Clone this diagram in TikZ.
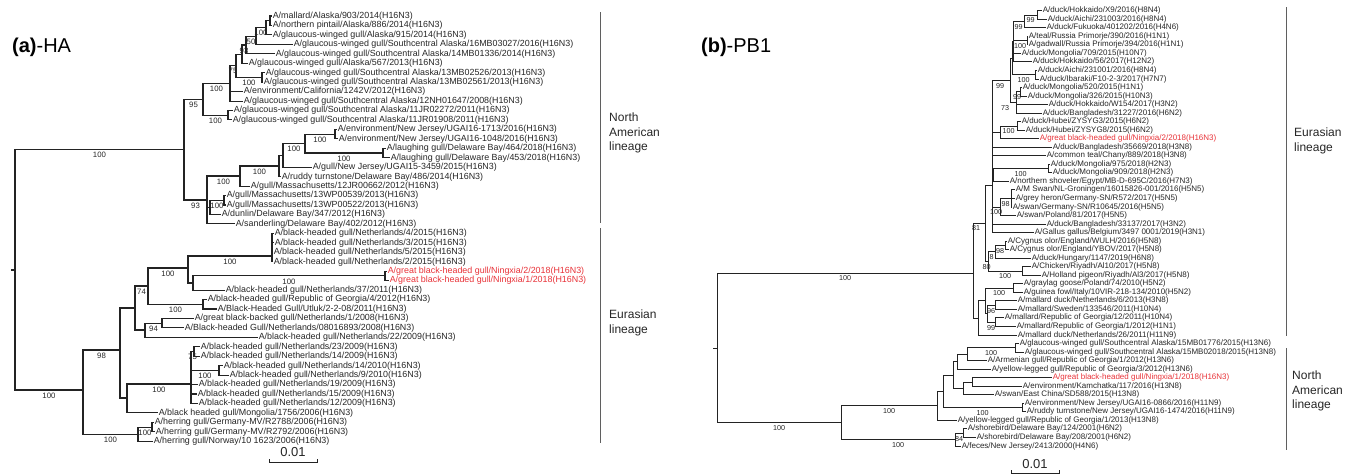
\documentclass[tikz,border=0pt]{standalone}
\usepackage{fontspec}
\setmainfont{Liberation Sans}
\usepackage{tikz}
\usetikzlibrary{positioning}
\definecolor{ningxia}{RGB}{232,50,56}
\definecolor{treeline}{RGB}{35,35,35}
\definecolor{barline}{RGB}{95,95,95}
% draw the branches from one parent to each of its children
\newcommand{\kids}[3][br]{\foreach \c in {#3}{\draw[#1] (#2) |- (\c);}}

\begin{document}
\begin{tikzpicture}[x=1pt, y=-1pt,
  br/.style={draw=treeline, line width=1.1pt},
  rbr/.style={draw=treeline, line width=0.85pt},
  lleaf/.style={anchor=west, inner sep=0.6pt, text=black!85, font=\fontsize{8.9}{9}\selectfont},
  rleaf/.style={anchor=west, inner sep=0.6pt, text=black!85, font=\fontsize{8}{8.5}\selectfont},
  lboot/.style={inner sep=0pt, text=black!85, font=\fontsize{7.8}{8}\selectfont},
  rboot/.style={inner sep=0pt, text=black!85, font=\fontsize{7.2}{8}\selectfont},
  lineage/.style={anchor=west, align=left, inner sep=0pt, text=black!85, font=\fontsize{12}{14.5}\selectfont},
  panel/.style={anchor=west, inner sep=0pt, font=\fontsize{20}{22}\selectfont},
  bar/.style={draw=barline, line width=1pt},
  scalebar/.style={draw=treeline, line width=0.8pt}]
\useasboundingbox (0,0) rectangle (1351,475);

%%% (a) HA
\node[panel] (ttla) at (12,47) {\textbf{(a)}-HA};

\node[lleaf] (a1) at (272,16.0) {A/mallard/Alaska/903/2014(H16N3)};
\node[lleaf] (a2) at (272,25.5) {A/northern pintail/Alaska/886/2014(H16N3)};
\node[lleaf] (a3) at (272,34.9) {A/glaucous-winged gull/Alaska/915/2014(H16N3)};
\node[lleaf] (a4) at (293,44.4) {A/glaucous-winged gull/Southcentral Alaska/16MB03027/2016(H16N3)};
\node[lleaf] (a5) at (275,53.8) {A/glaucous-winged gull/Southcentral Alaska/14MB01336/2014(H16N3)};
\node[lleaf] (a6) at (248,63.3) {A/glaucous-winged gull/Alaska/567/2013(H16N3)};
\node[lleaf] (a7) at (265,72.7) {A/glaucous-winged gull/Southcentral Alaska/13MB02526/2013(H16N3)};
\node[lleaf] (a8) at (263,82.2) {A/glaucous-winged gull/Southcentral Alaska/13MB02561/2013(H16N3)};
\node[lleaf] (a9) at (243,91.6) {A/environment/California/1242V/2012(H16N3)};
\node[lleaf] (a10) at (243,101.1) {A/glaucous-winged gull/Southcentral Alaska/12NH01647/2008(H16N3)};
\node[lleaf] (a11) at (233,110.5) {A/glaucous-winged gull/Southcentral Alaska/11JR02272/2011(H16N3)};
\node[lleaf] (a12) at (232,119.9) {A/glaucous-winged gull/Southcentral Alaska/11JR01908/2011(H16N3)};
\node[lleaf] (a13) at (337,129.4) {A/environment/New Jersey/UGAI16-1713/2016(H16N3)};
\node[lleaf] (a14) at (338,138.8) {A/environment/New Jersey/UGAI16-1048/2016(H16N3)};
\node[lleaf] (a15) at (386,148.3) {A/laughing gull/Delaware Bay/464/2018(H16N3)};
\node[lleaf] (a16) at (390,157.8) {A/laughing gull/Delaware Bay/453/2018(H16N3)};
\node[lleaf] (a17) at (312,167.2) {A/gull/New Jersey/UGAI15-3459/2015(H16N3)};
\node[lleaf] (a18) at (281,176.7) {A/ruddy turnstone/Delaware Bay/486/2014(H16N3)};
\node[lleaf] (a19) at (250,186.1) {A/gull/Massachusetts/12JR00662/2012(H16N3)};
\node[lleaf] (a20) at (226,195.6) {A/gull/Massachusetts/13WP00539/2013(H16N3)};
\node[lleaf] (a21) at (226,205.0) {A/gull/Massachusetts/13WP00522/2013(H16N3)};
\node[lleaf] (a22) at (221,214.5) {A/dunlin/Delaware Bay/347/2012(H16N3)};
\node[lleaf] (a23) at (235,223.9) {A/sanderling/Delaware Bay/402/2012(H16N3)};
\node[lleaf] (a24) at (274,233.4) {A/black-headed gull/Netherlands/4/2015(H16N3)};
\node[lleaf] (a25) at (274,242.8) {A/black-headed gull/Netherlands/3/2015(H16N3)};
\node[lleaf] (a26) at (273,252.3) {A/black-headed gull/Netherlands/5/2015(H16N3)};
\node[lleaf] (a27) at (273,261.7) {A/black-headed gull/Netherlands/2/2015(H16N3)};
\node[lleaf, text=ningxia] (a28) at (387,271.2) {A/great black-headed gull/Ningxia/2/2018(H16N3)};
\node[lleaf, text=ningxia] (a29) at (389,280.6) {A/great black-headed gull/Ningxia/1/2018(H16N3)};
\node[lleaf] (a30) at (225,290.1) {A/black-headed gull/Netherlands/37/2011(H16N3)};
\node[lleaf] (a31) at (207,299.5) {A/black-headed gull/Republic of Georgia/4/2012(H16N3)};
\node[lleaf] (a32) at (217,309.0) {A/Black-Headed Gull/Utluk/2-2-08/2011(H16N3)};
\node[lleaf] (a33) at (194,318.4) {A/great black-backed gull/Netherlands/1/2008(H16N3)};
\node[lleaf] (a34) at (184,327.9) {A/Black-headed Gull/Netherlands/08016893/2008(H16N3)};
\node[lleaf] (a35) at (258,337.3) {A/black-headed gull/Netherlands/22/2009(H16N3)};
\node[lleaf] (a36) at (200,346.8) {A/black-headed gull/Netherlands/23/2009(H16N3)};
\node[lleaf] (a37) at (200,356.2) {A/black-headed gull/Netherlands/14/2009(H16N3)};
\node[lleaf] (a38) at (223,365.7) {A/black-headed gull/Netherlands/14/2010(H16N3)};
\node[lleaf] (a39) at (229,375.1) {A/black-headed gull/Netherlands/9/2010(H16N3)};
\node[lleaf] (a40) at (198,384.6) {A/black-headed gull/Netherlands/19/2009(H16N3)};
\node[lleaf] (a41) at (197,394.0) {A/black-headed gull/Netherlands/15/2009(H16N3)};
\node[lleaf] (a42) at (198,403.5) {A/black-headed gull/Netherlands/12/2009(H16N3)};
\node[lleaf] (a43) at (158,412.9) {A/black headed gull/Mongolia/1756/2006(H16N3)};
\node[lleaf] (a44) at (154,422.4) {A/herring gull/Germany-MV/R2788/2006(H16N3)};
\node[lleaf] (a45) at (155,431.8) {A/herring gull/Germany-MV/R2792/2006(H16N3)};
\node[lleaf] (a46) at (153,441.3) {A/herring gull/Norway/10 1623/2006(H16N3)};

% internal nodes, left tree
\coordinate (aN12) at (270,20.7);
\coordinate (aN13) at (266,27.8);
\coordinate (aN14) at (256,36.1);
\coordinate (aN15) at (246,45.0);
\coordinate (aN16) at (242,54.1);
\coordinate (aN78) at (262,77.5);
\coordinate (aN18) at (236,65.8);
\coordinate (aN10) at (230,83.5);
\coordinate (aN1112) at (228,115.2);
\coordinate (aNA1) at (203,99.4);
\coordinate (aN1314) at (335,134.1);
\coordinate (aN1516) at (383,153.0);
\coordinate (aN1316) at (305,143.6);
\coordinate (aN1317) at (283,155.4);
\coordinate (aN1318) at (279,166.0);
\coordinate (aN1319) at (240,176.0);
\coordinate (aN2021) at (224,200.3);
\coordinate (aN2022) at (210,207.4);
\coordinate (aNA2) at (207,200.0);
\coordinate (aNam) at (184,149.7);
\coordinate (aN2427) at (272,256.0);
\coordinate (aNred) at (385,275.9);
\coordinate (aN2830) at (193,283.0);
\coordinate (aN2430) at (188,268.0);
\coordinate (aN3132) at (203,304.3);
\coordinate (aN2432) at (148,286.0);
\coordinate (aN3334) at (162,323.2);
\coordinate (aN3335) at (145,330.0);
\coordinate (aN2435) at (135,308.0);
\coordinate (aN3637) at (194,351.5);
\coordinate (aN3839) at (219,370.4);
\coordinate (aN3642) at (191,384.0);
\coordinate (aN3643) at (127,398.0);
\coordinate (aNB1) at (120,350.0);
\coordinate (aN4445) at (152,427.1);
\coordinate (aN4446) at (138,434.2);
\coordinate (aNeu) at (83,390.0);
\coordinate (aroot) at (15,270.0);
\coordinate (atick) at (11,270.0);

\kids{aN12}{a1,a2}
\kids{aN13}{aN12,a3}
\kids{aN14}{aN13,a4}
\kids{aN15}{aN14,a5}
\kids{aN16}{aN15,a6}
\kids{aN78}{a7,a8}
\kids{aN18}{aN16,aN78}
\kids{aN10}{aN18,a9,a10}
\kids{aN1112}{a11,a12}
\kids{aNA1}{aN10,aN1112}
\kids{aN1314}{a13,a14}
\kids{aN1516}{a15,a16}
\kids{aN1316}{aN1314,aN1516}
\kids{aN1317}{aN1316,a17}
\kids{aN1318}{aN1317,a18}
\kids{aN1319}{aN1318,a19}
\kids{aN2021}{a20,a21}
\kids{aN2022}{aN2021,a22}
\kids{aNA2}{aN1319,aN2022,a23}
\kids{aNam}{aNA1,aNA2}
\kids{aN2427}{a24,a25,a26,a27}
\kids{aNred}{a28,a29}
\kids{aN2830}{aNred,a30}
\kids{aN2430}{aN2427,aN2830}
\kids{aN3132}{a31,a32}
\kids{aN2432}{aN2430,aN3132}
\kids{aN3334}{a33,a34}
\kids{aN3335}{aN3334,a35}
\kids{aN2435}{aN2432,aN3335}
\kids{aN3637}{a36,a37}
\kids{aN3839}{a38,a39}
\kids{aN3642}{aN3637,aN3839,a40,a41,a42}
\kids{aN3643}{aN3642,a43}
\kids{aNB1}{aN2435,aN3643}
\kids{aN4445}{a44,a45}
\kids{aN4446}{aN4445,a46}
\kids{aNeu}{aNB1,aN4446}
\kids{aroot}{aNam,aNeu}
\draw[br] (aroot) -- (atick);

% bootstrap values, left tree
\node[lboot] (ab1) at (261,33.3) {100};
\node[lboot] (ab2) at (251,41.6) {50};
\node[lboot] (ab3) at (244,50.5) {93};
\node[lboot] (ab4) at (249,83.0) {100};
\node[lboot] (ab5) at (233,71.3) {75};
\node[lboot] (ab6) at (216.5,89.0) {100};
\node[lboot] (ab7) at (215.5,120.7) {100};
\node[lboot] (ab8) at (193.5,105.0) {95};
\node[lboot] (ab9) at (320,139.6) {100};
\node[lboot] (ab10) at (344,158.5) {100};
\node[lboot] (ab11) at (294,149.0) {100};
\node[lboot] (ab12) at (259.5,171.5) {100};
\node[lboot] (ab13) at (223.5,181.5) {100};
\node[lboot] (ab14) at (217,205.8) {100};
\node[lboot] (ab15) at (195.5,205.5) {93};
\node[lboot] (ab16) at (99.5,155.2) {100};
\node[lboot] (ab17) at (230,261.5) {100};
\node[lboot] (ab18) at (289,281.4) {100};
\node[lboot] (ab19) at (168,273.5) {100};
\node[lboot] (ab20) at (175.5,309.8) {100};
\node[lboot] (ab21) at (141.5,291.5) {74};
\node[lboot] (ab22) at (153.5,328.7) {94};
\node[lboot] (ab23) at (192.5,357.0) {75};
\node[lboot] (ab24) at (205,375.9) {100};
\node[lboot] (ab25) at (159,389.5) {100};
\node[lboot] (ab26) at (101.5,355.5) {98};
\node[lboot] (ab27) at (145,432.6) {100};
\node[lboot] (ab28) at (110.5,439.7) {100};
\node[lboot] (ab29) at (49,395.5) {100};

% lineages and scale, left
\coordinate (alb1t) at (600,12);
\coordinate (alb1b) at (600,223);
\coordinate (alb2t) at (600,228);
\coordinate (alb2b) at (600,443);
\draw[bar] (alb1t) -- (alb1b);
\draw[bar] (alb2t) -- (alb2b);
\node[lineage] (alinNA) at (609,133) {North\\American\\lineage};
\node[lineage] (alinEU) at (609,323) {Eurasian\\lineage};
\coordinate (asc1) at (269,462);
\coordinate (asc2) at (317,462);
\draw[scalebar] ([yshift=3pt]asc1) -- (asc1) -- (asc2) -- ([yshift=3pt]asc2);
\node[inner sep=0pt, text=black!85, font=\fontsize{13}{14}\selectfont] (ascl) at (293,452) {0.01};

%%% (b) PB1
\node[panel] (ttlb) at (701,47) {\textbf{(b)}-PB1};

\node[rleaf] (b1) at (1042,10.7) {A/duck/Hokkaido/X9/2016(H8N4)};
\node[rleaf] (b2) at (1047,19.2) {A/duck/Aichi/231003/2016(H8N4)};
\node[rleaf] (b3) at (1046,27.8) {A/duck/Fukuoka/401202/2016(H4N6)};
\node[rleaf] (b4) at (1028,36.3) {A/teal/Russia Primorje/390/2016(H1N1)};
\node[rleaf] (b5) at (1028,44.8) {A/gadwall/Russia Primorje/394/2016(H1N1)};
\node[rleaf] (b6) at (1021,53.4) {A/duck/Mongolia/709/2015(H10N7)};
\node[rleaf] (b7) at (1032,61.9) {A/duck/Hokkaido/56/2017(H12N2)};
\node[rleaf] (b8) at (1037,70.4) {A/duck/Aichi/231001/2016(H8N4)};
\node[rleaf] (b9) at (1039,79.0) {A/duck/Ibaraki/F10-2-3/2017(H7N7)};
\node[rleaf] (b10) at (1022,87.5) {A/duck/Mongolia/520/2015(H1N1)};
\node[rleaf] (b11) at (1027,96.1) {A/duck/Mongolia/326/2015(H10N3)};
\node[rleaf] (b12) at (1048,104.6) {A/duck/Hokkaido/W154/2017(H3N2)};
\node[rleaf] (b13) at (1042,113.1) {A/duck/Bangladesh/31227/2016(H6N2)};
\node[rleaf] (b14) at (1021,121.7) {A/duck/Hubei/ZYSYG3/2015(H6N2)};
\node[rleaf] (b15) at (1025,130.2) {A/duck/Hubei/ZYSYG8/2015(H6N2)};
\node[rleaf, text=ningxia] (b16) at (1039,138.7) {A/great black-headed gull/Ningxia/2/2018(H16N3)};
\node[rleaf] (b17) at (1052,147.3) {A/duck/Bangladesh/35669/2018(H3N8)};
\node[rleaf] (b18) at (1046,155.8) {A/common teal/Chany/889/2018(H3N8)};
\node[rleaf] (b19) at (1050,164.3) {A/duck/Mongolia/975/2018(H2N3)};
\node[rleaf] (b20) at (1052,172.9) {A/duck/Mongolia/909/2018(H2N3)};
\node[rleaf] (b21) at (1009,181.4) {A/northern shoveler/Egypt/MB-D-695C/2016(H7N3)};
\node[rleaf] (b22) at (1015,189.9) {A/M Swan/NL-Groningen/16015826-001/2016(H5N5)};
\node[rleaf] (b23) at (1015,198.5) {A/grey heron/Germany-SN/R572/2017(H5N5)};
\node[rleaf] (b24) at (1012,207.0) {A/swan/Germany-SN/R10645/2016(H5N5)};
\node[rleaf] (b25) at (1016,215.5) {A/swan/Poland/81/2017(H5N5)};
\node[rleaf] (b26) at (1046,224.1) {A/duck/Bangladesh/33137/2017(H3N2)};
\node[rleaf] (b27) at (1034,232.6) {A/Gallus gallus/Belgium/3497 0001/2019(H3N1)};
\node[rleaf] (b28) at (1007,241.1) {A/Cygnus olor/England/WULH/2016(H5N8)};
\node[rleaf] (b29) at (1009,249.7) {A/Cygnus olor/England/YBOV/2017(H5N8)};
\node[rleaf] (b30) at (1031,258.2) {A/duck/Hungary/1147/2019(H6N8)};
\node[rleaf] (b31) at (1031,266.7) {A/Chicken/Riyadh/Al10/2017(H5N8)};
\node[rleaf] (b32) at (1041,275.3) {A/Holland pigeon/Riyadh/Al3/2017(H5N8)};
\node[rleaf] (b33) at (1023,283.8) {A/graylag goose/Poland/74/2010(H5N2)};
\node[rleaf] (b34) at (1023,292.3) {A/guinea fowl/Italy/10VIR-218-134/2010(H5N2)};
\node[rleaf] (b35) at (1017,300.9) {A/mallard duck/Netherlands/6/2013(H3N8)};
\node[rleaf] (b36) at (1017,309.4) {A/mallard/Sweden/133546/2011(H10N4)};
\node[rleaf] (b37) at (1004,317.9) {A/mallard/Republic of Georgia/12/2011(H10N4)};
\node[rleaf] (b38) at (1016,326.5) {A/mallard/Republic of Georgia/1/2012(H1N1)};
\node[rleaf] (b39) at (1017,335.0) {A/mallard duck/Netherlands/26/2011(H11N9)};
\node[rleaf] (b40) at (1019,343.5) {A/glaucous-winged gull/Southcentral Alaska/15MB01776/2015(H13N6)};
\node[rleaf] (b41) at (1024,352.1) {A/glaucous-winged gull/Southcentral Alaska/15MB02018/2015(H13N8)};
\node[rleaf] (b42) at (987,360.6) {A/Armenian gull/Republic of Georgia/1/2012(H13N6)};
\node[rleaf] (b43) at (991,369.2) {A/yellow-legged gull/Republic of Georgia/3/2012(H13N6)};
\node[rleaf, text=ningxia] (b44) at (1052,377.7) {A/great black-headed gull/Ningxia/1/2018(H16N3)};
\node[rleaf] (b45) at (1022,386.2) {A/environment/Kamchatka/117/2016(H13N8)};
\node[rleaf] (b46) at (994,394.8) {A/swan/East China/SD588/2015(H13N8)};
\node[rleaf] (b47) at (1024,403.3) {A/environment/New Jersey/UGAI16-0866/2016(H11N9)};
\node[rleaf] (b48) at (1026,411.8) {A/ruddy turnstone/New Jersey/UGAI16-1474/2016(H11N9)};
\node[rleaf] (b49) at (957,420.4) {A/yellow-legged gull/Republic of Georgia/1/2013(H13N8)};
\node[rleaf] (b50) at (967,428.9) {A/shorebird/Delaware Bay/124/2001(H6N2)};
\node[rleaf] (b51) at (976,437.4) {A/shorebird/Delaware Bay/208/2001(H6N2)};
\node[rleaf] (b52) at (961,446.0) {A/feces/New Jersey/2413/2000(H4N6)};

% internal nodes, right tree
\coordinate (bN12) at (1037,15.0);
\coordinate (bN13) at (1024,21.4);
\coordinate (bN45) at (1027,40.6);
\coordinate (bN17) at (1013,41.6);
\coordinate (bN89) at (1035,74.7);
\coordinate (bN19) at (1012,58.2);
\coordinate (bN1011) at (1020,91.8);
\coordinate (bN1013) at (1016,102.5);
\coordinate (bN113) at (1010,80.4);
\coordinate (bN1415) at (1017,126.0);
\coordinate (bN1416) at (1000,132.3);
\coordinate (bN1920) at (1048,168.6);
\coordinate (bN1921) at (993,175.0);
\coordinate (bN2224) at (1011,198.5);
\coordinate (bN2225) at (1000,207.0);
\coordinate (bN127) at (992,185.0);
\coordinate (bN2829) at (1005,245.4);
\coordinate (bN2830) at (995,251.8);
\coordinate (bN3132) at (1022,271.0);
\coordinate (bN2832) at (988,261.4);
\coordinate (bN132) at (985,223.0);
\coordinate (bN3334) at (1013,288.0);
\coordinate (bN3536) at (995,305.2);
\coordinate (bN3738) at (995,322.2);
\coordinate (bN3538) at (987,313.7);
\coordinate (bN3338) at (985,300.9);
\coordinate (bN3339) at (978,318.0);
\coordinate (bNeu) at (973,273.0);
\coordinate (bN4041) at (1015,347.8);
\coordinate (bN4042) at (967,354.2);
\coordinate (bN4043) at (957,361.7);
\coordinate (bN4445) at (972,382.0);
\coordinate (bN4446) at (963,388.5);
\coordinate (bN4046) at (953,375.1);
\coordinate (bN4748) at (1022,407.6);
\coordinate (bN4048) at (943,391.3);
\coordinate (bN4049) at (937,405.8);
\coordinate (bN5051) at (963,433.2);
\coordinate (bN5052) at (955,439.6);
\coordinate (bNam) at (841,422.7);
\coordinate (broot) at (717,348.0);
\coordinate (btick) at (713,348.0);

\kids[rbr]{bN12}{b1,b2}
\kids[rbr]{bN13}{bN12,b3}
\kids[rbr]{bN45}{b4,b5}
\kids[rbr]{bN17}{bN13,bN45,b6,b7}
\kids[rbr]{bN89}{b8,b9}
\kids[rbr]{bN19}{bN17,bN89}
\kids[rbr]{bN1011}{b10,b11}
\kids[rbr]{bN1013}{bN1011,b12,b13}
\kids[rbr]{bN113}{bN19,bN1013}
\kids[rbr]{bN1415}{b14,b15}
\kids[rbr]{bN1416}{bN1415,b16}
\kids[rbr]{bN1920}{b19,b20}
\kids[rbr]{bN1921}{bN1920,b21}
\kids[rbr]{bN2224}{b22,b23,b24}
\kids[rbr]{bN2225}{bN2224,b25}
\kids[rbr]{bN127}{bN113,bN1416,b17,b18,bN1921,bN2225,b26,b27}
\kids[rbr]{bN2829}{b28,b29}
\kids[rbr]{bN2830}{bN2829,b30}
\kids[rbr]{bN3132}{b31,b32}
\kids[rbr]{bN2832}{bN2830,bN3132}
\kids[rbr]{bN132}{bN127,bN2832}
\kids[rbr]{bN3334}{b33,b34}
\kids[rbr]{bN3536}{b35,b36}
\kids[rbr]{bN3738}{b37,b38}
\kids[rbr]{bN3538}{bN3536,bN3738}
\kids[rbr]{bN3338}{bN3334,bN3538}
\kids[rbr]{bN3339}{bN3338,b39}
\kids[rbr]{bNeu}{bN132,bN3339}
\kids[rbr]{bN4041}{b40,b41}
\kids[rbr]{bN4042}{bN4041,b42}
\kids[rbr]{bN4043}{bN4042,b43}
\kids[rbr]{bN4445}{b44,b45}
\kids[rbr]{bN4446}{bN4445,b46}
\kids[rbr]{bN4046}{bN4043,bN4446}
\kids[rbr]{bN4748}{b47,b48}
\kids[rbr]{bN4048}{bN4046,bN4748}
\kids[rbr]{bN4049}{bN4048,b49}
\kids[rbr]{bN5051}{b50,b51}
\kids[rbr]{bN5052}{bN5051,b52}
\kids[rbr]{bNam}{bN4049,bN5052}
\kids[rbr]{broot}{bNeu,bNam}
\draw[rbr] (broot) -- (btick);

% bootstrap values, right tree
\node[rboot] (bb1) at (1030.5,20.0) {99};
\node[rboot] (bb2) at (1018.5,27.0) {99};
\node[rboot] (bb3) at (1020,46.0) {100};
\node[rboot] (bb4) at (1023.5,80.0) {100};
\node[rboot] (bb5) at (1017,97.0) {99};
\node[rboot] (bb6) at (1005,108.0) {73};
\node[rboot] (bb7) at (1000,86.0) {99};
\node[rboot] (bb8) at (1008.5,131.5) {100};
\node[rboot] (bb9) at (1020.5,174.0) {100};
\node[rboot] (bb10) at (1005.5,204.0) {98};
\node[rboot] (bb11) at (996,212.5) {100};
\node[rboot] (bb12) at (1000,251.0) {98};
\node[rboot] (bb13) at (991.5,257.0) {8};
\node[rboot] (bb14) at (1005,276.5) {100};
\node[rboot] (bb15) at (986.5,267.0) {80};
\node[rboot] (bb16) at (976,228.5) {81};
\node[rboot] (bb17) at (999,293.5) {100};
\node[rboot] (bb18) at (991,310.7) {96};
\node[rboot] (bb19) at (991,327.7) {99};
\node[rboot] (bb20) at (845,278.5) {100};
\node[rboot] (bb21) at (991,353.3) {100};
\node[rboot] (bb22) at (982.5,413.0) {100};
\node[rboot] (bb23) at (889,411.3) {100};
\node[rboot] (bb24) at (959,438.7) {84};
\node[rboot] (bb25) at (898,445.0) {100};
\node[rboot] (bb26) at (779,428.2) {100};

% lineages and scale, right
\coordinate (blb1t) at (1286,7);
\coordinate (blb1b) at (1286,336);
\coordinate (blb2t) at (1286,348);
\coordinate (blb2b) at (1286,450);
\draw[bar] (blb1t) -- (blb1b);
\draw[bar] (blb2t) -- (blb2b);
\node[lineage] (blinEU) at (1294,141) {Eurasian\\lineage};
\node[lineage] (blinNA) at (1292,391) {North\\American\\lineage};
\coordinate (bsc1) at (1011,473);
\coordinate (bsc2) at (1059,473);
\draw[scalebar] ([yshift=3pt]bsc1) -- (bsc1) -- (bsc2) -- ([yshift=3pt]bsc2);
\node[inner sep=0pt, text=black!85, font=\fontsize{13}{14}\selectfont] (bscl) at (1035,464) {0.01};
\end{tikzpicture}
\end{document}
